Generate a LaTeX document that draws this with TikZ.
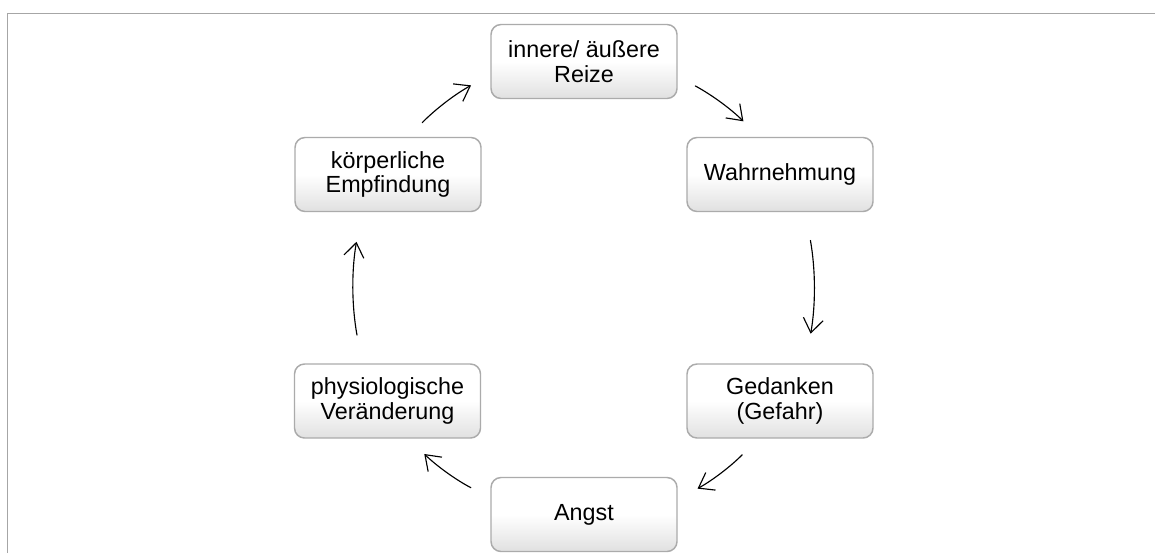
\documentclass[tikz,border=0pt]{standalone}
\usepackage{fontspec}
\setmainfont{Liberation Sans}
\usetikzlibrary{arrows.meta}
\tikzset{
    cyclebox/.style={draw=black!33,line width=1.1pt,rounded corners=7.5pt,
        top color=white,bottom color=black!12,middle color=white,
        minimum width=139.5pt,minimum height=55.5pt,inner sep=0pt,align=center,
        font=\fontsize{17.5}{18.5}\selectfont},
    cyclearrow/.style={line width=0.85pt,line cap=round,
        -{Straight Barb[length=10.5pt,width=15pt,line width=0.85pt]}}
}
\begin{document}
\begin{tikzpicture}[x=0.75pt,y=-0.75pt]
    \useasboundingbox (0,0) rectangle (1155,553);

    % frame
    \draw[black!35,line width=1.1pt] (7.5,553) -- (7.5,13.5) -- (1155,13.5);

    % boxes
    \node[cyclebox] (reize) at (584,61.5) {innere/ äußere\\Reize};
    \node[cyclebox] (wahrnehmung) at (780,174.5) {Wahrnehmung};
    \node[cyclebox] (gedanken) at (780,401) {Gedanken\\(Gefahr)};
    \node[cyclebox] (angst) at (584,514.5) {Angst};
    \node[cyclebox] (veraenderung) at (387.5,401) {physiologische\\Veränderung};
    \node[cyclebox] (empfindung) at (388,174.5) {körperliche\\Empfindung};

    % cycle
    \draw[cyclearrow,shorten <=15pt,shorten >=16.5pt] (reize.-9.5) to[bend left=8] (wahrnehmung.119);
    \draw[cyclearrow,shorten <=21.5pt,shorten >=22.5pt] (wahrnehmung.-56) to[bend left=10] (gedanken.56);
    \draw[cyclearrow,shorten <=17pt,shorten >=17pt] (gedanken.-120) to[bend left=8] (angst.9);
    \draw[cyclearrow,shorten <=16.5pt,shorten >=16.5pt] (angst.170.5) to[bend left=8] (veraenderung.-61.5);
    \draw[cyclearrow,shorten <=21.5pt,shorten >=22.5pt] (veraenderung.124.5) to[bend left=10] (empfindung.235.5);
    \draw[cyclearrow,shorten <=15pt,shorten >=16.5pt] (empfindung.62) to[bend left=8] (reize.188.5);
\end{tikzpicture}
\end{document}
